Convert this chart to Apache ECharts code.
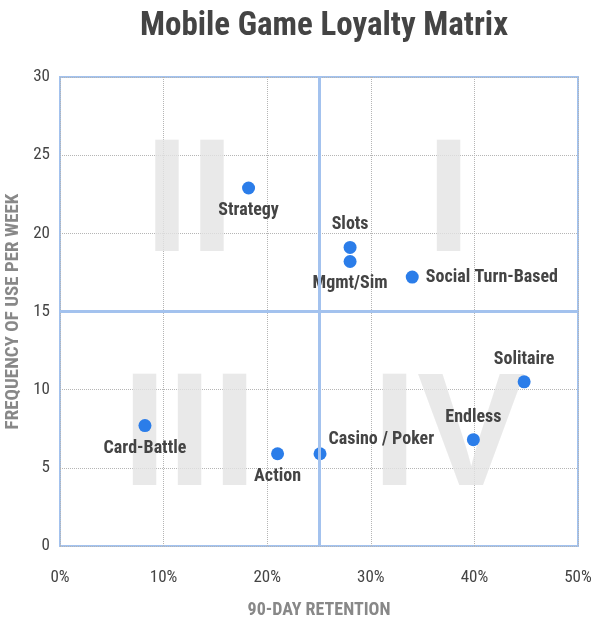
<!DOCTYPE html>
<html>
<head>
<meta charset="utf-8">
<script src="https://cdn.jsdelivr.net/npm/echarts@6/dist/echarts.min.js"></script>
<style>
  html, body { margin: 0; padding: 0; background: #fff; }
  #main { width: 600px; height: 640px; }
</style>
</head>
<body>
<div id="main"></div>
<script>
var games = ['Strategy', 'Slots', 'Mgmt/Sim', 'Social Turn-Based', 'Solitaire', 'Endless', 'Casino / Poker', 'Action', 'Card-Battle'];
var retention = [18.2, 28.0, 28.0, 34.0, 44.8, 39.9, 25.1, 21.0, 8.2];
var frequency = [22.9, 19.1, 18.2, 17.2, 10.5, 6.8, 5.9, 5.9, 7.7];
var labelSide = ['bottom', 'top', 'bottom', 'right', 'top', 'top', 'right', 'bottom', 'bottom'];

var quadrants = ['I', 'II', 'III', 'IV'];
var quadX = [37.5, 12.5, 12.5, 37.5];
var quadY = [22.5, 22.5, 7.5, 7.5];

var xSplit = 25;
var ySplit = 15;

var narrow = "'Roboto Condensed', 'Open Sans Condensed', sans-serif";
var lineBlue = '#a3c2ee';

var myChart = echarts.init(document.getElementById('main'));

var points = games.map(function (g, i) {
    var lab = { position: labelSide[i] };
    // this one sits up and to the right of its dot
    if (g === 'Casino / Poker') lab.offset = [-5, -14];
    return { name: g, value: [retention[i], frequency[i]], label: lab };
});

var numerals = quadrants.map(function (q, i) {
    return { name: q, value: [quadX[i], quadY[i]] };
});

var option = {
    animation: false,
    title: {
        text: 'Mobile Game Loyalty Matrix',
        left: 319,
        textAlign: 'center',
        top: 5,
        textStyle: { fontFamily: narrow, fontSize: 33, fontWeight: 'bold', color: '#444' }
    },
    grid: {
        left: 60, right: 22, top: 77, bottom: 94,
        outerBoundsMode: 'none',
        show: true, borderColor: lineBlue, borderWidth: 2, backgroundColor: 'transparent'
    },
    xAxis: {
        type: 'value', min: 0, max: 50, interval: 10,
        name: '90-DAY RETENTION', nameLocation: 'middle', nameGap: 55,
        nameTextStyle: { fontFamily: narrow, fontSize: 18, fontWeight: 'bold', color: '#888' },
        axisLine: { show: false }, axisTick: { show: false },
        axisLabel: { formatter: '{value}%', margin: 23, fontFamily: narrow, fontSize: 17, color: '#444' },
        splitLine: { lineStyle: { type: 'dotted', color: '#b5b5b5', width: 1 } }
    },
    yAxis: {
        type: 'value', min: 0, max: 30, interval: 5,
        name: 'FREQUENCY OF USE PER WEEK', nameLocation: 'middle', nameGap: 29,
        nameTextStyle: { fontFamily: narrow, fontSize: 19, fontWeight: 'bold', color: '#888' },
        axisLine: { show: false }, axisTick: { show: false },
        axisLabel: { margin: 10, fontFamily: narrow, fontSize: 17, color: '#444' },
        splitLine: { lineStyle: { type: 'dotted', color: '#b5b5b5', width: 1 } }
    },
    series: [
        {
            type: 'scatter',
            silent: true,
            symbolSize: 0,
            data: numerals,
            label: {
                show: true, position: 'inside', formatter: '{b}',
                fontFamily: "'Liberation Sans', Arial, sans-serif",
                fontSize: 162, fontWeight: 'bold', color: '#e4e4e4',
                offset: [0, 12]
            },
            z: 1
        },
        {
            type: 'scatter',
            symbolSize: 13,
            itemStyle: { color: '#2b7de9', opacity: 1 },
            data: points,
            label: {
                show: true, formatter: '{b}', distance: 7,
                fontFamily: narrow, fontSize: 18, fontWeight: 'bold', color: '#444'
            },
            markLine: {
                silent: true, symbol: 'none',
                label: { show: false },
                lineStyle: { type: 'solid', color: lineBlue, width: 3 },
                data: [{ xAxis: xSplit }, { yAxis: ySplit }]
            },
            z: 3
        }
    ]
};

myChart.setOption(option);
</script>
</body>
</html>
